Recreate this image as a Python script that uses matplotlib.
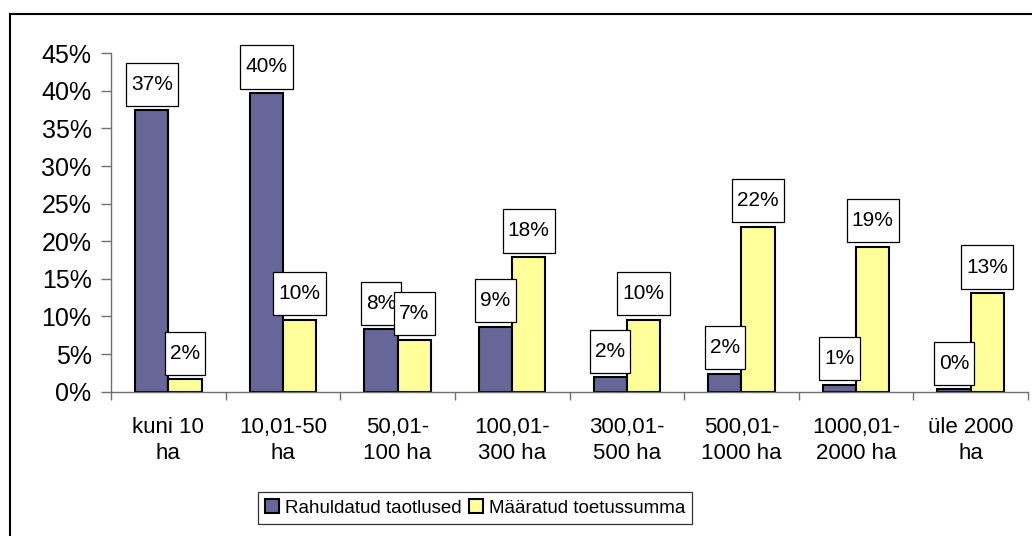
import numpy as np
import matplotlib
matplotlib.use("Agg")
import matplotlib.pyplot as plt
from matplotlib.lines import Line2D
from matplotlib.path import Path

plt.rcParams['font.family'] = ['Liberation Sans', 'DejaVu Sans']

# andmed
categories = ["kuni 10\nha", "10,01-50\nha", "50,01-\n100 ha", "100,01-\n300 ha",
              "300,01-\n500 ha", "500,01-\n1000 ha", "1000,01-\n2000 ha", "üle 2000\nha"]
rahuldatud = [37.4, 39.7, 8.3, 8.6, 1.9, 2.4, 0.9, 0.3]
maaratud = [1.65, 9.6, 6.9, 17.9, 9.6, 21.9, 19.3, 13.1]
series_names = ["Rahuldatud taotlused", "Määratud toetussumma"]

c_blue = "#666699"
c_yellow = "#FFFF99"
axis_col = "#707070"


def label_box(x0, y0, width, height, mutation_size):
    # Exceli sildikast: kõrgem kui lai
    px = 0.25 * mutation_size
    py = 0.58 * mutation_size
    x0, y0 = x0 - px, y0 - py
    x1, y1 = x0 + width + 2*px, y0 + height + 2*py
    return Path([(x0, y0), (x1, y0), (x1, y1), (x0, y1), (x0, y0)], closed=True)


fig = plt.figure(figsize=(10.32, 5.36), dpi=100)
ax = fig.add_axes([111/1032, 1-391.7/536, (1028-111)/1032, (391.7-53.3)/536])

x = np.arange(len(categories))
w = 0.29
b1 = ax.bar(x - w/2, rahuldatud, w, color=c_blue, edgecolor="black", linewidth=1.5, zorder=2)
b2 = ax.bar(x + w/2, maaratud, w, color=c_yellow, edgecolor="black", linewidth=1.5, zorder=2)

for bars, vals in [(b1, rahuldatud), (b2, maaratud)]:
    for rect, v in zip(bars, vals):
        ax.annotate(f"{v:.0f}%", (rect.get_x() + rect.get_width()/2, v),
                    xytext=(0, 12), textcoords="offset points",
                    ha="center", va="bottom", fontsize=15, zorder=5,
                    bbox=dict(boxstyle=label_box, fc="white", ec="black", lw=0.9))

ax.set_xlim(-0.5, len(categories) - 0.5)
ax.set_ylim(0, 45)
ax.set_yticks(np.arange(0, 46, 5))
ax.set_yticklabels([f"{t}%" for t in range(0, 46, 5)], fontsize=18)
ax.tick_params(axis="y", length=7, width=1, color=axis_col, pad=7)

ax.set_xticks(np.arange(-0.5, len(categories), 1))
ax.set_xticklabels([])
ax.tick_params(axis="x", which="major", length=6, width=1, color=axis_col)
ax.set_xticks(x, minor=True)
ax.set_xticklabels(categories, minor=True, fontsize=16, linespacing=1.35)
ax.tick_params(axis="x", which="minor", length=0, pad=18)

for s in ["top", "right"]:
    ax.spines[s].set_visible(False)
for s in ["left", "bottom"]:
    ax.spines[s].set_color(axis_col)
    ax.spines[s].set_linewidth(1)

leg = fig.legend([b1, b2], series_names, loc="center", bbox_to_anchor=(475/1032, 1-508/536),
                 ncol=2, fontsize=13.5, frameon=True, fancybox=False, handlelength=0.75,
                 handleheight=0.75, handletextpad=0.3, columnspacing=0.4, borderpad=0.4)
leg.get_frame().set_edgecolor("black")
leg.get_frame().set_linewidth(0.9)

# ümbritsev raam
fig.add_artist(Line2D([10/1032, 1], [1-14/536, 1-14/536], color="black", lw=1.5,
                      transform=fig.transFigure))
fig.add_artist(Line2D([10/1032, 10/1032], [0, 1-14/536], color="black", lw=1.5,
                      transform=fig.transFigure))

fig.savefig("out.png", dpi=100)
